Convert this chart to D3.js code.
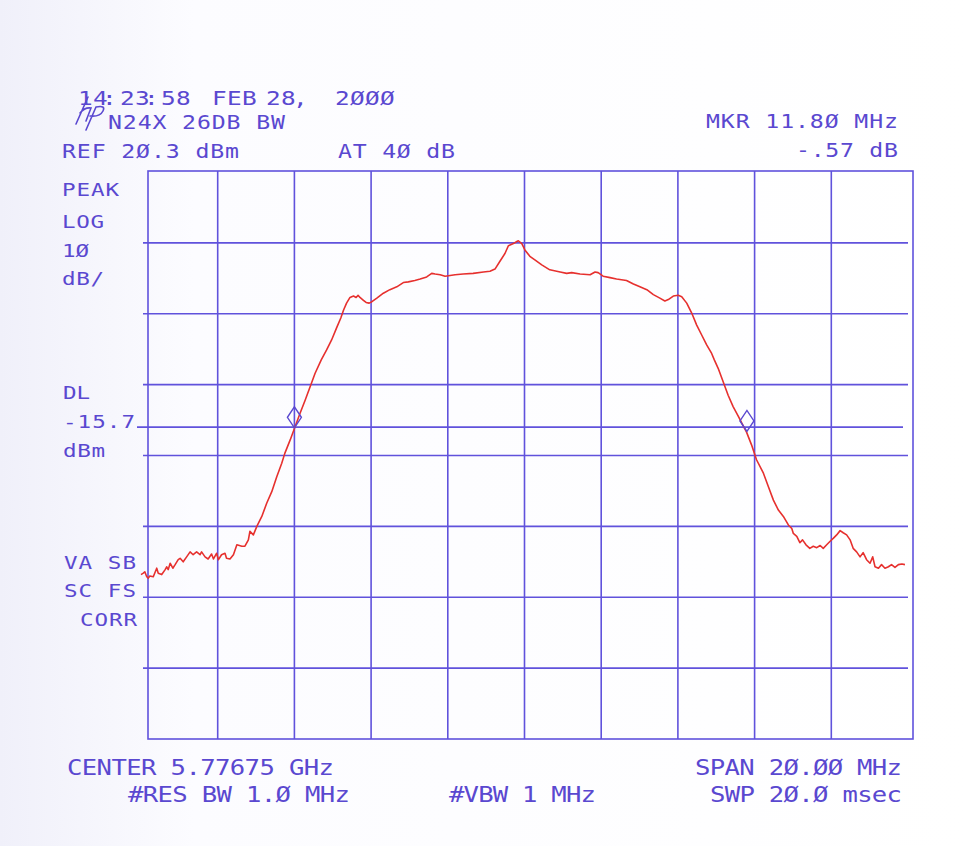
<!DOCTYPE html>
<html>
<head>
<meta charset="utf-8">
<script src="https://cdn.jsdelivr.net/npm/d3@7"></script>
<style>
  body { margin: 0; background: #fff; }
  svg { display: block; }
</style>
</head>
<body>
<div id="chart"></div>
<script>
// trace: offset from centre (MHz) and level (dBm)
var traceFreq = [
  -10.00, -9.94, -9.90, -9.85, -9.81, -9.77, -9.68, -9.59, -9.55, -9.46,
  -9.37, -9.33, -9.29, -9.24, -9.17, -9.11, -9.03, -8.98, -8.90, -8.81,
  -8.72, -8.64, -8.55, -8.46, -8.42, -8.33, -8.25, -8.16, -8.11, -8.03,
  -7.98, -7.90, -7.81, -7.77, -7.68, -7.59, -7.50, -7.37, -7.29, -7.20,
  -7.16, -7.07, -6.98, -6.85, -6.72, -6.59, -6.46, -6.33, -6.25, -6.11,
  -5.98, -5.85, -5.72, -5.59, -5.46, -5.30, -5.16, -5.03, -4.90, -4.79,
  -4.72, -4.64, -4.55, -4.46, -4.39, -4.34, -4.29, -4.20, -4.13, -4.05,
  -3.98, -3.85, -3.68, -3.51, -3.33, -3.16, -3.03, -2.86, -2.72, -2.55,
  -2.42, -2.33, -2.20, -2.07, -1.94, -1.81, -1.60, -1.34, -1.07, -0.90,
  -0.77, -0.64, -0.51, -0.42, -0.29, -0.20, -0.16, -0.07, 0.01, 0.14,
  0.27, 0.45, 0.66, 0.93, 1.10, 1.23, 1.45, 1.71, 1.84, 1.92,
  2.05, 2.23, 2.40, 2.66, 2.84, 3.01, 3.19, 3.36, 3.53, 3.66,
  3.75, 3.88, 4.01, 4.10, 4.23, 4.36, 4.49, 4.62, 4.75, 4.88,
  4.95, 5.05, 5.18, 5.31, 5.44, 5.58, 5.71, 5.79, 5.92, 6.05,
  6.23, 6.36, 6.49, 6.62, 6.75, 6.88, 6.97, 7.01, 7.10, 7.18,
  7.25, 7.34, 7.44, 7.53, 7.62, 7.71, 7.79, 7.88, 7.97, 8.05,
  8.14, 8.23, 8.31, 8.40, 8.49, 8.57, 8.66, 8.75, 8.83, 8.92,
  9.01, 9.08, 9.14, 9.23, 9.31, 9.40, 9.49, 9.57, 9.66, 9.75,
  9.84, 9.92
];
var traceLevel = [
  -36.5, -36.3, -36.1, -36.8, -37.0, -36.7, -36.8, -35.6, -36.3, -36.5,
  -35.8, -35.4, -35.8, -34.9, -35.6, -35.1, -34.4, -34.2, -34.7, -34.0,
  -33.3, -33.7, -33.3, -33.7, -33.3, -34.0, -34.3, -33.6, -34.3, -33.5,
  -34.4, -33.7, -33.5, -34.2, -34.3, -33.7, -32.3, -32.5, -32.5, -31.6,
  -30.4, -30.9, -29.7, -28.3, -26.4, -24.8, -22.7, -20.8, -19.4, -17.5,
  -15.6, -13.7, -11.9, -10.0, -8.1, -6.2, -4.8, -3.4, -1.7, -0.3,
  0.8, 1.8, 2.6, 2.8, 2.6, 2.9, 2.6, 2.2, 1.9, 1.8,
  2.0, 2.5, 3.2, 3.7, 4.1, 4.7, 4.8, 5.0, 5.2, 5.5,
  6.0, 5.9, 5.8, 5.6, 5.7, 5.8, 5.9, 6.0, 6.2, 6.3,
  6.6, 7.7, 8.8, 9.9, 10.2, 10.5, 10.6, 10.2, 9.3, 8.4,
  7.9, 7.2, 6.5, 6.2, 6.0, 6.1, 5.9, 5.8, 6.2, 6.1,
  5.6, 5.4, 5.2, 5.0, 4.5, 4.1, 3.7, 3.0, 2.5, 2.1,
  2.3, 2.8, 2.9, 2.7, 1.8, 0.4, -1.3, -2.7, -4.1, -5.3,
  -6.2, -7.4, -9.3, -11.2, -12.8, -14.2, -15.6, -16.4, -18.2, -20.3,
  -22.2, -24.1, -26.0, -27.4, -28.3, -29.5, -30.0, -30.7, -31.1, -32.0,
  -31.6, -32.3, -32.8, -32.5, -32.7, -32.4, -32.8, -32.3, -31.8, -31.4,
  -30.9, -30.3, -30.6, -30.9, -31.6, -32.8, -33.3, -34.0, -33.4, -34.4,
  -34.9, -34.0, -35.4, -35.6, -35.1, -35.6, -35.4, -35.1, -35.5, -35.1,
  -35.0, -35.1
];

// instrument settings
var refLevel = 20.3;      // dBm, top of screen
var dbPerDiv = 10;
var spanMHz = 20;
var displayLine = -15.7;  // dBm
var markerFreq = [-6.0, 5.80];
var markerLevel = [-15.8, -16.3];

var headerTime = "14:23:58FEB28,2ØØØ";
var headerRows = ["N24X 26DB BW", "REF 2Ø.3 dBm", "AT 4Ø dB", "MKR 11.8Ø MHz", "-.57 dB"];
var sideLabels = ["PEAK", "LOG", "1Ø", "dB/", "DL", "-15.7", "dBm", "VA SB", "SC FS", "CORR"];
var footLabels = ["CENTER 5.77675 GHz", "#RES BW 1.Ø MHz", "#VBW 1 MHz", "SPAN 2Ø.ØØ MHz", "SWP 2Ø.Ø msec"];

var width = 970, height = 846;
var ink = "#5a48d0", gridInk = "#6052dc", traceInk = "#e6302e";

var svg = d3.select("#chart").append("svg")
  .attr("width", width)
  .attr("height", height);

var grad = svg.append("defs").append("linearGradient")
  .attr("id", "paper").attr("x1", 0).attr("x2", 1).attr("y1", 0).attr("y2", 0);
grad.append("stop").attr("offset", 0).attr("stop-color", "#f0f0fa");
grad.append("stop").attr("offset", 0.2).attr("stop-color", "#fcfcff");
grad.append("stop").attr("offset", 1).attr("stop-color", "#ffffff");
svg.append("rect").attr("width", width).attr("height", height).attr("fill", "url(#paper)");

var x = d3.scaleLinear().domain([-spanMHz / 2, spanMHz / 2]).range([141, 908]);
var y = d3.scaleLinear().domain([refLevel, refLevel - 8 * dbPerDiv]).range([172, 739]);

// graticule
var g = svg.append("g").attr("stroke", gridInk).attr("stroke-width", 1.6).attr("fill", "none");

g.selectAll("line.v")
  .data(d3.range(1, 10))
  .enter().append("line")
  .attr("class", "v")
  .attr("x1", function(d) { return x(-spanMHz / 2 + d * spanMHz / 10); })
  .attr("x2", function(d) { return x(-spanMHz / 2 + d * spanMHz / 10); })
  .attr("y1", y(refLevel) - 1)
  .attr("y2", y(refLevel - 8 * dbPerDiv));

g.selectAll("line.h")
  .data(d3.range(1, 8))
  .enter().append("line")
  .attr("class", "h")
  .attr("x1", x(-spanMHz / 2) + 2)
  .attr("x2", x(spanMHz / 2))
  .attr("y1", function(d) { return y(refLevel - d * dbPerDiv); })
  .attr("y2", function(d) { return y(refLevel - d * dbPerDiv); });

// display line
g.append("line")
  .attr("x1", x(-spanMHz / 2) - 4)
  .attr("x2", x(spanMHz / 2) - 5)
  .attr("y1", y(displayLine))
  .attr("y2", y(displayLine));

// frame, drawn a few pixels to the right of the graticule like the plotter did
g.append("rect")
  .attr("x", x(-spanMHz / 2) + 7)
  .attr("y", y(refLevel) - 1)
  .attr("width", x(spanMHz / 2) - x(-spanMHz / 2) - 2)
  .attr("height", y(refLevel - 8 * dbPerDiv) - y(refLevel) + 1);

// trace
var pts = traceFreq.map(function(f, i) { return [f, traceLevel[i]]; });
var line = d3.line()
  .x(function(d) { return x(d[0]); })
  .y(function(d) { return y(d[1]); });

svg.append("path")
  .datum(pts)
  .attr("d", line)
  .attr("fill", "none")
  .attr("stroke", traceInk)
  .attr("stroke-width", 1.6)
  .attr("stroke-linejoin", "round");

// markers: diamond sitting on the trace
svg.selectAll("path.mkr")
  .data(markerFreq)
  .enter().append("path")
  .attr("class", "mkr")
  .attr("d", function(f, i) {
    var cx = x(f), by = y(markerLevel[i]);
    return "M" + cx + "," + by + "l7,-10.5l-7,-10.5l-7,10.5z";
  })
  .attr("fill", "none")
  .attr("stroke", ink)
  .attr("stroke-width", 1.4);

// text, plotter style: wide glyphs on a fixed 15px advance
var stretch = 1.22;
function put(txt, px, py, size, alignEnd) {
  var len = txt.length * 15 - 3;
  var x0 = alignEnd ? px - len : px;
  svg.append("text")
    .attr("transform", "translate(" + x0 + "," + py + ") scale(" + stretch + ",1)")
    .attr("textLength", len / stretch)
    .attr("lengthAdjust", "spacing")
    .attr("font-family", "DejaVu Sans Mono, monospace")
    .attr("font-size", size)
    .attr("fill", ink)
    .text(txt);
}

// clock line: the plotter packs the colons tight, so place each glyph
var timeX = [78, 93, 102, 120, 135, 144, 161, 176, 212, 227, 242, 266, 281, 293, 335, 350, 365, 380];
svg.append("text")
  .attr("transform", "translate(" + timeX[0] + ",105) scale(" + stretch + ",1)")
  .attr("x", timeX.map(function(v) { return (v - timeX[0]) / stretch; }).join(" "))
  .attr("font-family", "DejaVu Sans Mono, monospace")
  .attr("font-size", 20)
  .attr("fill", ink)
  .text(headerTime);

put(headerRows[0], 108, 129, 19);
put(headerRows[1], 62, 158, 19);
put(headerRows[2], 338, 158, 19);
put(headerRows[3], 898, 128, 19, true);
put(headerRows[4], 898, 157, 19, true);

var sidePos = [[62, 196], [62, 228], [62, 257], [62, 285], [63, 399], [63, 428], [63, 457], [64, 569], [64, 597], [80, 626]];
sideLabels.forEach(function(t, i) { put(t, sidePos[i][0], sidePos[i][1], 18.5); });

put(footLabels[0], 67, 775, 21);
put(footLabels[1], 128, 802, 21);
put(footLabels[2], 449, 802, 21);
put(footLabels[3], 902, 775, 21, true);
put(footLabels[4], 902, 802, 21, true);

// hp logo, slanted strokes over the clock
svg.append("path")
  .attr("d", "M88,97L76,124M80,113Q85,107 91,108L86,121M96,107L86,130M96,107Q106,105 103,111Q100,117 90,116")
  .attr("fill", "none")
  .attr("stroke", ink)
  .attr("stroke-width", 1.6)
  .attr("stroke-linecap", "round");
</script>
</body>
</html>
